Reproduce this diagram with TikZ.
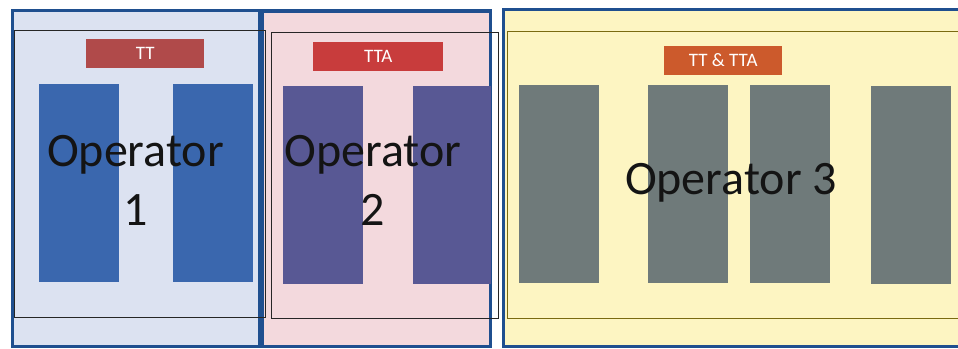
\documentclass[tikz,border=0pt]{standalone}
\usepackage{fontspec}
\setmainfont{Carlito}
\begin{document}
\begin{tikzpicture}[x=1pt,y=-1pt,
  outerbox/.style={draw=frameblue,line width=3.5pt,anchor=north west,inner sep=0pt},
  innerbox/.style={draw=#1,line width=1.3pt,anchor=north west,inner sep=0pt},
  unit/.style={fill=#1,anchor=north west,inner sep=0pt,minimum width=79.5pt,minimum height=198pt},
  tag/.style={fill=#1,anchor=north west,inner sep=0pt,minimum height=28.5pt,text=white,font=\fontsize{19}{20}\selectfont},
  optext/.style={text=black!92,align=center,font=\fontsize{48}{59}\selectfont}]
\definecolor{frameblue}{HTML}{1F4F8F}
\definecolor{fillone}{HTML}{DCE2F1}
\definecolor{filltwo}{HTML}{F3D9DD}
\definecolor{fillthree}{HTML}{FDF5C2}
\definecolor{unitone}{HTML}{3A67AE}
\definecolor{unittwo}{HTML}{585894}
\definecolor{unitthree}{HTML}{6F7A7A}
\definecolor{tagone}{HTML}{B04A4A}
\definecolor{tagtwo}{HTML}{C83C3C}
\definecolor{tagthree}{HTML}{CC5A2C}
\definecolor{olive}{HTML}{7A6A10}
\useasboundingbox (0,0) rectangle (958,348);
\clip (0,0) rectangle (958,348);
\fill[white] (0,0) rectangle (958,348);
% operator areas
\node[outerbox,fill=fillone,minimum width=247.5pt,minimum height=336pt] (area1) at (10.5,8.5) {};
\node[outerbox,fill=filltwo,minimum width=228pt,minimum height=335.5pt] (area2) at (260.5,9) {};
\node[outerbox,fill=fillthree,minimum width=470pt,minimum height=337pt] (area3) at (501.5,7.5) {};
% inner frames
\node[innerbox=black!85,minimum width=251pt,minimum height=287pt] (frame1) at (13.5,30) {};
\node[innerbox=black!85,minimum width=227pt,minimum height=286pt] (frame2) at (270.5,32) {};
\node[innerbox=olive,minimum width=470pt,minimum height=287pt] (frame3) at (506.5,31) {};
% units
\node[unit=unitone] (u11) at (39,84) {};
\node[unit=unitone] (u12) at (173,84) {};
\node[unit=unittwo] (u21) at (283,86) {};
\node[unit=unittwo,minimum width=78pt] (u22) at (413,86) {};
\node[unit=unitthree] (u31) at (519,85) {};
\node[unit=unitthree] (u32) at (648,85) {};
\node[unit=unitthree] (u33) at (750,85) {};
\node[unit=unitthree] (u34) at (871,86) {};
% tags
\node[tag=tagone,minimum width=118pt] (t1) at (86,39) {TT};
\node[tag=tagtwo,minimum width=130pt] (t2) at (313,42) {TTA};
\node[tag=tagthree,minimum width=118pt] (t3) at (664,46) {TT \& TTA};
% operator names
\node[optext] (n1) at (135.5,180) {Operator\\1};
\node[optext] (n2) at (373,180) {Operator\\2};
\node[optext] (n3) at (731,183) {Operator 3};
\end{tikzpicture}
\end{document}
